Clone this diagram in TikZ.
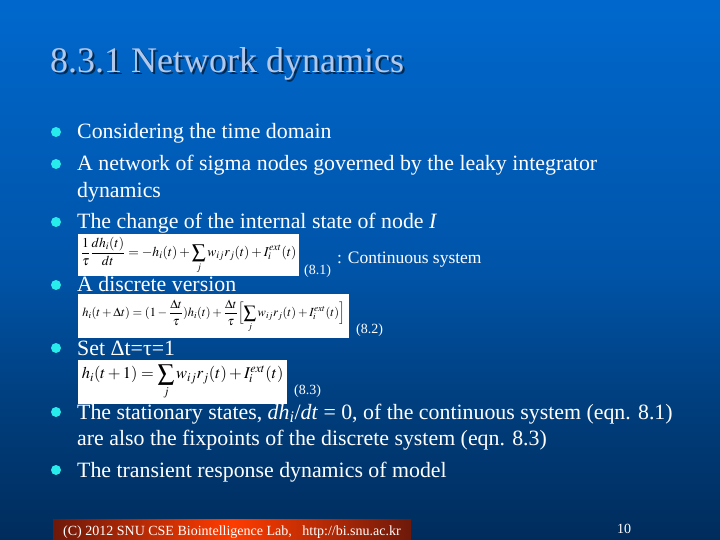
\documentclass[tikz,border=0pt]{standalone}
\usepackage{mathptmx}
\usepackage{fontspec}
\setmainfont{Liberation Serif}
\usetikzlibrary{shadings}
\definecolor{bgtop}{RGB}{0,104,205}
\definecolor{bgmid}{RGB}{0,84,168}
\definecolor{bgq}{RGB}{0,62,125}
\definecolor{bgbot}{RGB}{0,44,92}
\definecolor{titlecol}{RGB}{178,200,235}
\definecolor{bulletcol}{RGB}{40,235,235}
\definecolor{footdark}{RGB}{110,25,10}
\definecolor{footmid}{RGB}{255,60,0}
\pgfdeclareverticalshading{slidebg}{100bp}{color(0bp)=(bgbot); color(25bp)=(bgbot); color(37.5bp)=(bgq); color(50bp)=(bgmid); color(75bp)=(bgtop); color(100bp)=(bgtop)}
\tikzset{
  bodytext/.style={anchor=base west,inner sep=0pt,text=white,font=\fontsize{21.85}{24}\selectfont},
  titletext/.style={anchor=base west,inner sep=0pt,font=\fontsize{36}{40}\selectfont},
  smalltext/.style={anchor=base west,inner sep=0pt,text=white,font=\fontsize{14}{16}\selectfont},
  conttext/.style={anchor=base west,inner sep=0pt,text=white,font=\fontsize{17.5}{19}\selectfont},
  bulletdot/.style={circle,fill=bulletcol,inner sep=0pt,minimum size=10pt},
  eqbox/.style={fill=white,text=black,inner sep=0pt,anchor=north west},
}
\begin{document}
\begin{tikzpicture}[x=1pt,y=-1pt]
\useasboundingbox (0,0) rectangle (720,540);
\shade[shading=slidebg] (0,0) rectangle (720,540);
% title
\node[titletext,text=black!60!bgtop] (titleshadow) at (52,75) {8.3.1 Network dynamics};
\node[titletext,text=titlecol] (title) at (50,73) {8.3.1 Network dynamics};
% bullets
\foreach \n/\y in {a/132,b/164,c/222,d/285,e/348,f/412,g/470}
  \node[bulletdot] (bullet\n) at (56,\y) {};
% body
\node[bodytext] (t1) at (77,139) {Considering the time domain};
\node[bodytext] (t2) at (77,171) {A network of sigma nodes governed by the leaky integrator};
\node[bodytext] (t3) at (77,197) {dynamics};
\node[bodytext] (t4) at (77,229) {The change of the internal state of node \textit{I}};
\node[bodytext] (t5) at (77,291) {A discrete version};
\node[bodytext] (t6) at (77,355) {Set Δt=τ=1};
\node[bodytext] (t7) at (77,419) {The stationary states, \textit{dh\textsubscript{i}}/\textit{dt} = 0, of the continuous system (eqn. 8.1)};
\node[bodytext] (t8) at (77,445) {are also the fixpoints of the discrete system (eqn. 8.3)};
\node[bodytext] (t9) at (77,477) {The transient response dynamics of model};
% equations
\node[eqbox,minimum width=221pt,minimum height=42pt] (eq1) at (78,234)
  {\fontsize{13.6}{14}\selectfont$\displaystyle \frac{1}{\tau}\frac{dh_i(t)}{dt}=-h_i(t)+\sum_j w_{ij}r_j(t)+I_i^{ext}(t)$};
\node[eqbox,minimum width=271pt,minimum height=44pt] (eq2) at (78,294)
  {\fontsize{12.4}{14}\selectfont$\displaystyle h_i(t+\Delta t)=(1-\frac{\Delta t}{\tau})h_i(t)+\frac{\Delta t}{\tau}\Bigl[\sum_j w_{ij}r_j(t)+I_i^{ext}(t)\Bigr]$};
\node[eqbox,minimum width=209pt,minimum height=44pt] (eq3) at (78,360)
  {\fontsize{16.4}{18}\selectfont$\displaystyle h_i(t+1)=\sum_j w_{ij}r_j(t)+I_i^{ext}(t)$};
% equation labels
\node[smalltext] (n1) at (304,274) {(8.1)};
\node[conttext] (c1) at (337,263) {: Continuous system};
\node[smalltext] (n2) at (356,333) {(8.2)};
\node[smalltext] (n3) at (294,394) {(8.3)};
% footer
\shade[left color=footdark,right color=footmid] (53,519) rectangle (232,540);
\shade[left color=footmid,right color=footdark] (232,519) rectangle (411,540);
\node[smalltext] (foot) at (63,535) {(C) 2012 SNU CSE Biointelligence Lab,\ \ \ http://bi.snu.ac.kr};
\node[smalltext] (page) at (617,533) {10};
\end{tikzpicture}
\end{document}
